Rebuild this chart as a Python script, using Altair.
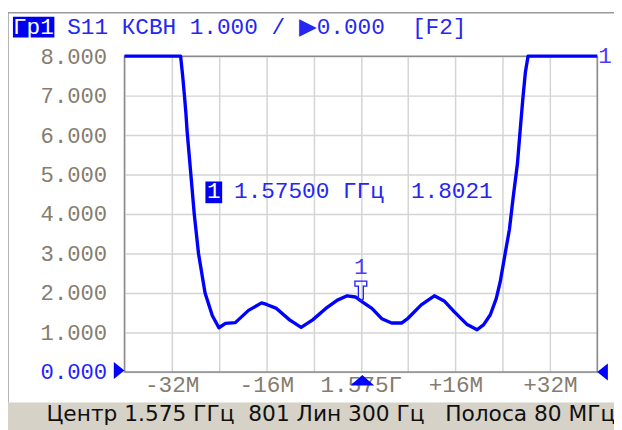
import altair as alt
import pandas as pd

# ---- data ----
freq_mhz = [-40.0, -30.5, -30.15, -29.85, -29.6, -29.4, -28.76, -28.19, -27.47, -26.36,
            -25.14, -24.02, -22.91, -21.24, -19.01, -16.8, -15.95, -14.28, -12.06, -10.1,
            -8.15, -5.93, -3.97, -2.3, -0.92, 0.0, 1.87, 3.54, 5.21, 6.88,
            7.98, 10.22, 12.44, 14.1, 15.78, 18.0, 19.67, 20.79, 21.91, 22.91,
            23.58, 24.42, 25.14, 25.8, 26.5, 26.95, 27.4, 27.85, 28.3, 40.0]
vswr = [8.0, 8.0, 7.5, 7.0, 6.55, 6.1, 5.0, 4.0, 3.0, 2.0,
        1.43, 1.12, 1.23, 1.25, 1.56, 1.75, 1.71, 1.61, 1.32, 1.13,
        1.32, 1.61, 1.82, 1.93, 1.90, 1.8021, 1.61, 1.35, 1.24, 1.24,
        1.36, 1.70, 1.93, 1.80, 1.53, 1.20, 1.07, 1.20, 1.45, 1.86,
        2.28, 3.0, 3.61, 4.45, 5.28, 6.1, 6.9, 7.6, 8.0, 8.0]
y_ticks = [0, 1, 2, 3, 4, 5, 6, 7, 8]
x_ticks = [-40, -32, -24, -16, -8, 0, 8, 16, 24, 32, 40]
marker_freq = [0.0]
marker_vswr = [1.8021]
marker_id = ["1"]
NB = "\u00a0"
trace_tag = "Гр1"
trace_title = "S11 КСВН 1.000 / ▶0.000" + NB * 2 + "[F2]"
marker_readout = "1.57500 ГГц" + NB * 2 + "1.8021"
status_line = "Центр 1.575 ГГц" + NB * 2 + "801 Лин 300 Гц" + NB * 3 + "Полоса 80 МГц"

MONO = "Liberation Mono"
BLUE_TXT = "#2626f2"
GRAY_TXT = "#857c6e"
W, H = 479, 320

trace = pd.DataFrame({"f": freq_mhz, "v": vswr})
marker = pd.DataFrame({"f": marker_freq, "v": marker_vswr, "id": marker_id})
one = pd.DataFrame({"k": [0]})

xs = alt.Scale(domain=[-40, 40], nice=False, zero=False)
ys = alt.Scale(domain=[0, 8], nice=False, zero=False)

x_axis = alt.Axis(values=x_ticks, grid=True, gridColor="#d4d4d4", gridWidth=1.5,
                  ticks=False, domain=False, title=None, labelFont=MONO, labelFontSize=23,
                  labelColor=GRAY_TXT, labelPadding=2, labelFlush=False, labelOverlap=False,
                  labelExpr="datum.value == 0 ? '1.575Г' : (abs(datum.value) == 16 || abs(datum.value) == 32 ? (datum.value > 0 ? '+' : '-') + abs(datum.value) + 'M' : '')")
y_axis = alt.Axis(values=y_ticks, format=".3f", grid=True, gridColor="#d4d4d4", gridWidth=1.5,
                  ticks=False, domain=False, title=None, labelFont=MONO, labelFontSize=22.5,
                  labelColor={"condition": {"test": "datum.value == 0", "value": "#1e1eff"}, "value": GRAY_TXT},
                  labelPadding=18, labelOverlap=False)

X = alt.X("f:Q", scale=xs, axis=x_axis)
Y = alt.Y("v:Q", scale=ys, axis=y_axis)

# plot border (under the trace)
border = alt.Chart(one).mark_rect(fillOpacity=0, stroke="#8a8a8a", strokeWidth=1.5).encode(
    x=alt.value(0), x2=alt.value(W), y=alt.value(0), y2=alt.value(H))

line = alt.Chart(trace).mark_line(color="#0000ff", strokeWidth=3.4, strokeJoin="round").encode(x=X, y=Y)

mk_shape = "M -0.3 -1 L 0.3 -1 L 0.3 -0.75 L 0.125 -0.75 L 0.125 -0.1 L 0 0 L -0.125 -0.1 L -0.125 -0.75 L -0.3 -0.75 Z"
mk = alt.Chart(marker).mark_point(shape=mk_shape, size=1600, filled=False, stroke="#1a1aff",
                                  strokeWidth=1.3, opacity=1).encode(x=X, y=Y)
mk_label = alt.Chart(marker).mark_text(font=MONO, fontSize=23, color="#4a3cff", dy=-34,
                                       baseline="middle", align="center").encode(x=X, y=Y, text="id:N")

# frame and status bar
frame_left = alt.Chart(one).mark_rule(color="#9a9a9a", strokeWidth=1.5).encode(
    x=alt.value(-118), y=alt.value(-44), y2=alt.value(351))
frame_top = alt.Chart(one).mark_rule(color="#9a9a9a", strokeWidth=1.5).encode(
    x=alt.value(-118), x2=alt.value(500), y=alt.value(-44))
status_bg = alt.Chart(one).mark_rect(color="#d6d2c8").encode(
    x=alt.value(-130), x2=alt.value(500), y=alt.value(351), y2=alt.value(390))
status_txt = alt.Chart(pd.DataFrame({"t": [status_line]})).mark_text(
    font="DejaVu Sans", fontSize=22, color="#101010", align="left", baseline="alphabetic").encode(
    x=alt.value(-79), y=alt.value(370), text="t:N")

# title
tag_bg = alt.Chart(one).mark_rect(color="#0000f0").encode(
    x=alt.value(-113), x2=alt.value(-71), y=alt.value(-40), y2=alt.value(-19))
tag_txt = alt.Chart(pd.DataFrame({"t": [trace_tag]})).mark_text(
    font=MONO, fontSize=23, color="white", align="left", baseline="alphabetic").encode(
    x=alt.value(-113), y=alt.value(-22), text="t:N")
title_txt = alt.Chart(pd.DataFrame({"t": [trace_title]})).mark_text(
    font=MONO, fontSize=23, color=BLUE_TXT, align="left", baseline="alphabetic").encode(
    x=alt.value(-58), y=alt.value(-22), text="t:N")

# trace number at the right end
trace_no = alt.Chart(pd.DataFrame({"t": ["1"]})).mark_text(
    font=MONO, fontSize=23, color="#4a3cff", align="left", baseline="middle").encode(
    x=alt.value(W + 1), y=alt.value(0), text="t:N")

# marker readout
ro_bg = alt.Chart(one).mark_rect(color="#0000f0").encode(
    x=alt.value(82), x2=alt.value(99), y=alt.value(127), y2=alt.value(149))
ro_id = alt.Chart(pd.DataFrame({"t": ["1"]})).mark_text(
    font=MONO, fontSize=23, color="white", align="center", baseline="alphabetic").encode(
    x=alt.value(90.5), y=alt.value(144), text="t:N")
ro_txt = alt.Chart(pd.DataFrame({"t": [marker_readout]})).mark_text(
    font=MONO, fontSize=23, color=BLUE_TXT, align="left", baseline="alphabetic").encode(
    x=alt.value(111), y=alt.value(144), text="t:N")

# reference-level / center triangles
tri_l = alt.Chart(one).mark_point(shape="M -1.2 -0.95 L 0 0 L -1.2 0.95 Z", size=324, filled=True,
                                  color="#0000ff", opacity=1).encode(x=alt.value(0), y=alt.value(318.5))
tri_r = alt.Chart(one).mark_point(shape="M 1.2 -0.95 L 0 0 L 1.2 0.95 Z", size=324, filled=True,
                                  color="#0000ff", opacity=1).encode(x=alt.value(W), y=alt.value(320))
tri_c = alt.Chart(one).mark_point(shape="M -1 0.9 L 0 0 L 1 0.9 Z", size=576, filled=True,
                                  color="#0000ff", opacity=1).encode(x=alt.value(241), y=alt.value(323))

chart = alt.layer(
    status_bg, frame_left, frame_top, border, line, mk, mk_label,
    status_txt, tag_bg, tag_txt, title_txt, trace_no, ro_bg, ro_id, ro_txt,
    tri_l, tri_r, tri_c
).properties(
    width=W, height=H,
    autosize=alt.AutoSizeParams(type="none"),
    padding={"left": 118, "top": 46, "right": 17, "bottom": 56},
    background="white",
).configure_view(stroke=None)

chart.save("out.html", embed_options={"renderer": "svg", "actions": False})
